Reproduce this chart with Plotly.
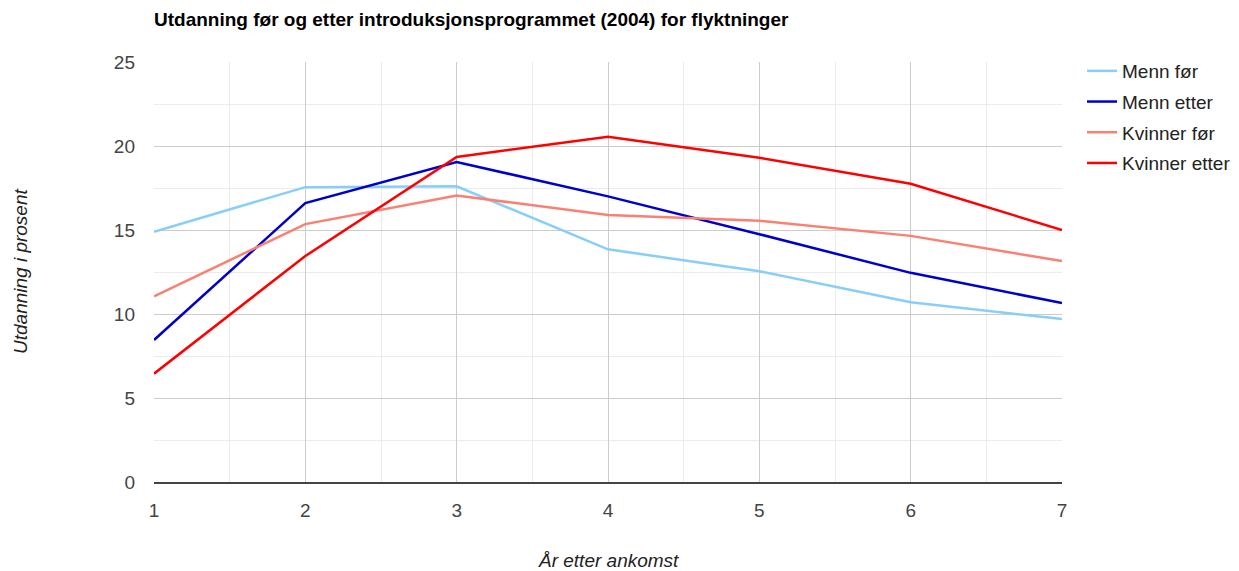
import plotly.graph_objects as go

years = [1, 2, 3, 4, 5, 6, 7]
menn_for = [14.9, 17.55, 17.6, 13.85, 12.55, 10.7, 9.7]
menn_etter = [8.45, 16.6, 19.05, 17.0, 14.75, 12.45, 10.65]
kvinner_for = [11.05, 15.35, 17.05, 15.9, 15.55, 14.65, 13.15]
kvinner_etter = [6.45, 13.45, 19.35, 20.55, 19.3, 17.75, 15.0]

names = ["Menn før", "Menn etter", "Kvinner før", "Kvinner etter"]
series = [menn_for, menn_etter, kvinner_for, kvinner_etter]
colors = ["#87cefa", "#0000cd", "#fa8072", "#ff0000"]

# page body has an 8px margin; compensate so the plot lands where the reference has it
OFF = 8
W, H = 1239, 571
L, R, T, B = 154 - OFF, W - 1062 + OFF, 62 - OFF, H - 482 + OFF
PW, PH = W - L - R, H - T - B

fig = go.Figure()
for n, s, c in zip(names, series, colors):
    fig.add_trace(go.Scatter(x=years, y=s, mode="lines", name=n, legendgroup=n,
                             line=dict(color=c, width=2.5)))

fig.update_layout(
    width=W, height=H,
    paper_bgcolor="white", plot_bgcolor="white",
    margin=dict(l=L, r=R, t=T, b=B, autoexpand=False),
    font=dict(family="Liberation Sans, Arial, sans-serif", color="#222"),
    title=dict(text="<b>Utdanning før og etter introduksjonsprogrammet (2004) for flyktninger</b>",
               x=(154 - OFF) / W, xanchor="left", y=1 - (19 - OFF) / H, yanchor="middle",
               font=dict(size=19, color="#000")),
    legend=dict(x=1 + 20 / PW, xanchor="left", y=1 + 10 / PH, yanchor="top",
                font=dict(size=19, color="#222"), tracegroupgap=3,
                bgcolor="rgba(0,0,0,0)"),
    xaxis=dict(range=[1, 7], tickvals=years, ticktext=[str(y) for y in years],
               showgrid=True, gridcolor="#cccccc", gridwidth=1,
               minor=dict(dtick=0.5, showgrid=True, gridcolor="#ebebeb"),
               zeroline=False, showline=True, linecolor="#444", linewidth=1.5,
               ticks="", tickfont=dict(size=19, color="#444"), ticklabelstandoff=10),
    yaxis=dict(range=[0, 25], tickvals=[0, 5, 10, 15, 20, 25],
               showgrid=True, gridcolor="#cccccc", gridwidth=1,
               minor=dict(dtick=2.5, showgrid=True, gridcolor="#ebebeb"),
               zeroline=False, showline=False, ticks="",
               tickfont=dict(size=19, color="#444"), ticklabelstandoff=18),
    annotations=[
        dict(text="<i>År etter ankomst</i>", xref="paper", yref="paper",
             x=0.5, y=0, yshift=-(560 - 482), xanchor="center", yanchor="middle",
             showarrow=False, font=dict(size=19, color="#222")),
        dict(text="<i>Utdanning i prosent</i>", xref="paper", yref="paper",
             x=0, xshift=-(154 - 20), y=0.5, xanchor="center", yanchor="middle",
             textangle=-90, showarrow=False, font=dict(size=19, color="#222")),
    ],
)

fig.write_html("out.html")
